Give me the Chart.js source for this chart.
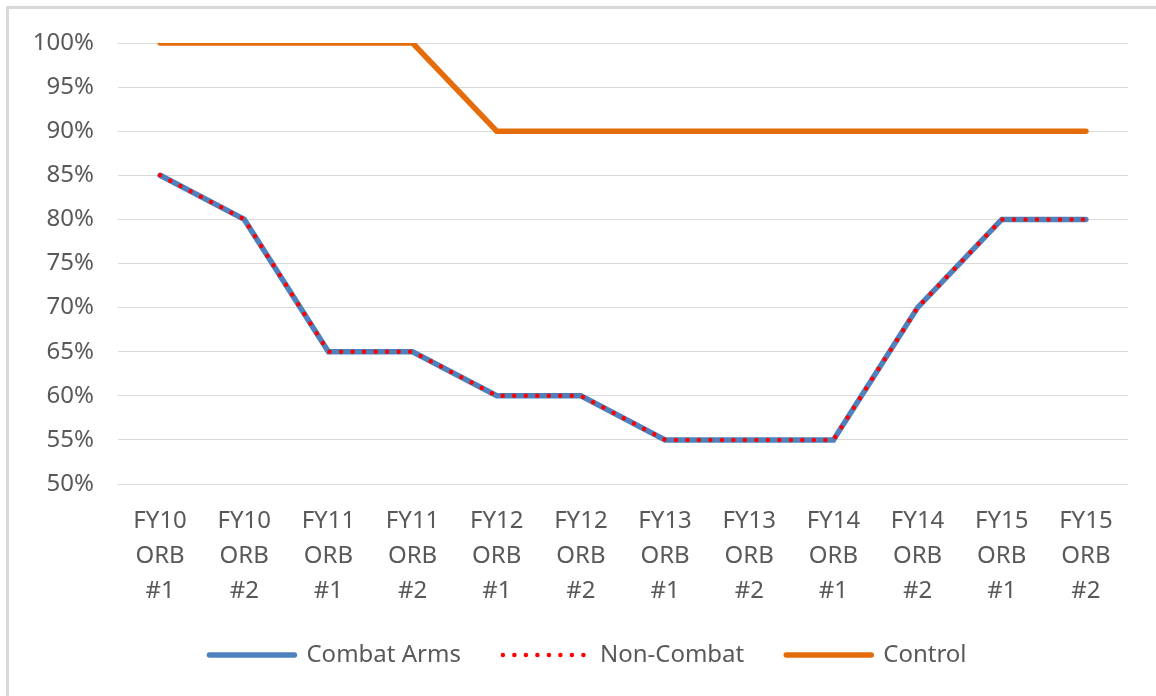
<!DOCTYPE html>
<html>
<head>
<meta charset="utf-8">
<script src="https://cdn.jsdelivr.net/npm/chart.js@4"></script>
<style>
    html, body { margin: 0; padding: 0; background: #fff; }
    #frame {
        position: absolute; left: 6px; top: 6px; width: 1160px; height: 700px;
        border-left: 3px solid #d9d9d9; border-top: 3px solid #d9d9d9;
    }
    #wrap { position: absolute; left: 0; top: 0; width: 1156px; height: 696px; }
</style>
</head>
<body>
<div id="frame"></div>
<div id="wrap"><canvas id="orbChart"></canvas></div>
<script>
const categories = [
    ['FY10', 'ORB', '#1'], ['FY10', 'ORB', '#2'],
    ['FY11', 'ORB', '#1'], ['FY11', 'ORB', '#2'],
    ['FY12', 'ORB', '#1'], ['FY12', 'ORB', '#2'],
    ['FY13', 'ORB', '#1'], ['FY13', 'ORB', '#2'],
    ['FY14', 'ORB', '#1'], ['FY14', 'ORB', '#2'],
    ['FY15', 'ORB', '#1'], ['FY15', 'ORB', '#2']
];
const combatArms = [85, 80, 65, 65, 60, 60, 55, 55, 55, 70, 80, 80];
const nonCombat = [85, 80, 65, 65, 60, 60, 55, 55, 55, 70, 80, 80];
const control = [100, 100, 100, 100, 90, 90, 90, 90, 90, 90, 90, 90];

const textColor = '#595959';
const fontFamily = '"Noto Sans", sans-serif';

// nudge the legend a bit to the right, like the original
const legendShift = {
    id: 'legendShift',
    beforeDraw(chart) {
        const lg = chart.legend;
        if (lg && !lg._shifted) {
            lg.left += 24;
            lg.right += 24;
            lg._shifted = true;
        }
    }
};

document.addEventListener("DOMContentLoaded", () => {
    const ctx = document.getElementById('orbChart').getContext('2d');

    new Chart(ctx, {
        type: 'line',
        data: {
            labels: categories,
            datasets: [
                {
                    label: 'Combat Arms',
                    data: combatArms,
                    borderColor: '#4f81bd',
                    backgroundColor: '#4f81bd',
                    borderWidth: 5.5,
                    borderCapStyle: 'round',
                    order: 2
                },
                {
                    label: 'Non-Combat',
                    data: nonCombat,
                    borderColor: '#ff0000',
                    backgroundColor: '#ff0000',
                    borderWidth: 4.5,
                    borderDash: [0, 11.5],
                    borderCapStyle: 'round',
                    order: 1
                },
                {
                    label: 'Control',
                    data: control,
                    borderColor: '#e46c0a',
                    backgroundColor: '#e46c0a',
                    borderWidth: 5.5,
                    borderCapStyle: 'round',
                    order: 3
                }
            ]
        },
        options: {
            responsive: true,
            maintainAspectRatio: false,
            animation: false,
            elements: {
                point: { radius: 0, hoverRadius: 0 },
                line: { tension: 0, borderJoinStyle: 'miter' }
            },
            layout: { padding: { top: 43, right: 28, bottom: 19, left: 0 } },
            scales: {
                x: {
                    offset: true,
                    grid: { display: false, drawTicks: false },
                    border: { display: false },
                    ticks: {
                        color: textColor,
                        font: { family: fontFamily, size: 24, lineHeight: 1.46 },
                        padding: 20,
                        maxRotation: 0,
                        autoSkip: false
                    },
                    afterFit: scale => { scale.height = 117; }
                },
                y: {
                    min: 50,
                    max: 100,
                    grid: { color: '#d9d9d9', lineWidth: 1, drawTicks: false },
                    border: { display: false },
                    ticks: {
                        stepSize: 5,
                        color: textColor,
                        font: { family: fontFamily, size: 24 },
                        padding: 24,
                        callback: v => v + '%'
                    },
                    afterFit: scale => { scale.width = 118; }
                }
            },
            plugins: {
                legend: {
                    position: 'bottom',
                    labels: {
                        color: textColor,
                        font: { family: fontFamily, size: 24 },
                        usePointStyle: true,
                        pointStyle: 'line',
                        pointStyleWidth: 85,
                        padding: 42,
                        // build the items from the dataset line styles, in dataset order
                        generateLabels: chart => chart.data.datasets.map((ds, i) => ({
                            text: ds.label,
                            datasetIndex: i,
                            fontColor: textColor,
                            strokeStyle: ds.borderColor,
                            fillStyle: ds.borderColor,
                            lineWidth: ds.borderWidth,
                            lineDash: ds.borderDash || [],
                            lineCap: 'round',
                            pointStyle: 'line',
                            hidden: false
                        }))
                    }
                },
                tooltip: { enabled: false }
            }
        },
        plugins: [legendShift]
    });
});
</script>
</body>
</html>
